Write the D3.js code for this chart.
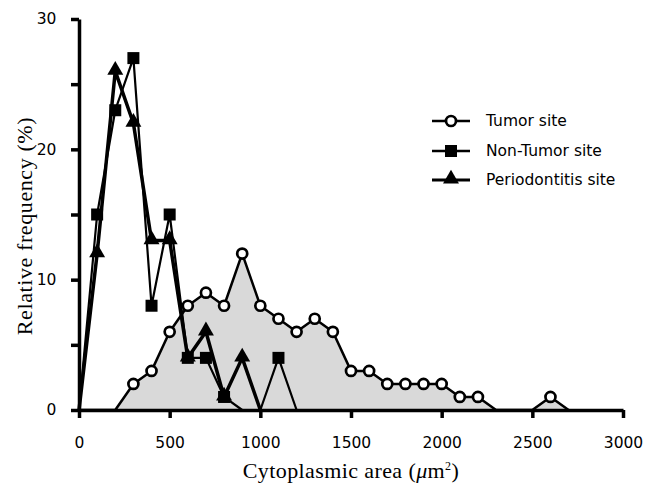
<!DOCTYPE html>
<html>
<head>
<meta charset="utf-8">
<script src="https://cdn.jsdelivr.net/npm/d3@7"></script>
<style>
  body { margin: 0; background: #fff; }
  svg { display: block; }
</style>
</head>
<body>
<div id="chart"></div>
<script>
const areaBins = [0, 100, 200, 300, 400, 500, 600, 700, 800, 900, 1000, 1100, 1200, 1300, 1400, 1500,
  1600, 1700, 1800, 1900, 2000, 2100, 2200, 2300, 2400, 2500, 2600, 2700];
const tumorValues = [0, 0, 0, 2, 3, 6, 8, 9, 8, 12, 8, 7, 6, 7, 6, 3, 3, 2, 2, 2, 2, 1, 1, 0, 0, 0, 1, 0];
const nonTumorBins = [0, 100, 200, 300, 400, 500, 600, 700, 800, 900, 1000, 1100, 1200];
const nonTumorValues = [0, 15, 23, 27, 8, 15, 4, 4, 1, 0, 0, 4, 0];
const perioBins = [0, 100, 200, 300, 400, 500, 600, 700, 800, 900, 1000];
const perioValues = [0, 12, 26, 22, 13, 13, 4, 6, 1, 4, 0];
const xTicks = [0, 500, 1000, 1500, 2000, 2500, 3000];
const yTicks = [0, 10, 20, 30];
const yMinorTicks = [0, 5, 10, 15, 20, 25, 30];
const legendLabels = ['Tumor site', 'Non-Tumor site', 'Periodontitis site'];

const W = 658, H = 486;
const SANS = '"DejaVu Sans", sans-serif';
const SERIF = '"Liberation Serif", serif';
const x = d3.scaleLinear().domain([0, 3000]).range([79, 623]);
const y = d3.scaleLinear().domain([0, 30]).range([410, 19]);

const svg = d3.select('#chart').append('svg').attr('width', W).attr('height', H);

const zip = (xs, ys) => xs.map((v, i) => ({x: v, y: ys[i]}));
const tumor = zip(areaBins, tumorValues);
const nonTumor = zip(nonTumorBins, nonTumorValues);
const perio = zip(perioBins, perioValues);

// grey fill under tumor curve (stippled in the print)
svg.append('path')
  .datum(tumor)
  .attr('fill', '#d9d9d9')
  .attr('d', d3.area().x(d => x(d.x)).y0(y(0)).y1(d => y(d.y)));

const line = d3.line().x(d => x(d.x)).y(d => y(d.y));

// axes
const xAxis = svg.append('g').attr('transform', `translate(0,${y(0)})`)
  .call(d3.axisBottom(x).tickValues(xTicks).tickSize(8).tickSizeOuter(0).tickFormat(d3.format('d')));
const yAxis = svg.append('g').attr('transform', `translate(${x(0)},0)`)
  .call(d3.axisLeft(y).tickValues(yMinorTicks).tickSize(8).tickSizeOuter(0)
    .tickFormat(d => yTicks.includes(d) ? d : ''));
[xAxis, yAxis].forEach(g => {
  g.select('.domain').attr('stroke', '#000').attr('stroke-width', 3.5);
  g.selectAll('.tick line').attr('stroke', '#000').attr('stroke-width', 3.5);
  g.selectAll('.tick text').attr('fill', '#000')
    .style('font-family', SANS).style('font-size', '15.5px');
});
xAxis.selectAll('.tick text').attr('dy', '1.75em');
yAxis.selectAll('.tick text').attr('dx', '-0.75em');

// series lines
svg.append('path').datum(tumor).attr('fill', 'none').attr('stroke', '#000')
  .attr('stroke-width', 2.5).attr('stroke-linejoin', 'round').attr('d', line);
svg.append('path').datum(nonTumor).attr('fill', 'none').attr('stroke', '#000')
  .attr('stroke-width', 2.2).attr('stroke-linejoin', 'round').attr('d', line);
svg.append('path').datum(perio).attr('fill', 'none').attr('stroke', '#000')
  .attr('stroke-width', 3.5).attr('stroke-linejoin', 'round').attr('d', line);

const triangle = d3.symbol().type(d3.symbolTriangle).size(110);

function drawSquare(g, cx, cy) {
  g.append('rect').attr('x', cx - 6).attr('y', cy - 6).attr('width', 12).attr('height', 12).attr('fill', '#000');
}
function drawTriangle(g, cx, cy) {
  g.append('path').attr('d', triangle()).attr('transform', `translate(${cx},${cy - 1})`).attr('fill', '#000');
}
function drawCircle(g, cx, cy) {
  g.append('circle').attr('cx', cx).attr('cy', cy).attr('r', 5)
    .attr('fill', '#fff').attr('stroke', '#000').attr('stroke-width', 2.7);
}

const marks = svg.append('g');
nonTumor.filter(d => d.y > 0).forEach(d => drawSquare(marks, x(d.x), y(d.y)));
perio.filter(d => d.y > 0).forEach(d => drawTriangle(marks, x(d.x), y(d.y)));
tumor.filter(d => d.y > 0).forEach(d => drawCircle(marks, x(d.x), y(d.y)));

// legend
const legendY = [121, 151, 180];
const drawers = [drawCircle, drawSquare, drawTriangle];
const legend = svg.append('g');
legendLabels.forEach((label, i) => {
  legend.append('line').attr('x1', 432).attr('x2', 470).attr('y1', legendY[i]).attr('y2', legendY[i])
    .attr('stroke', '#000').attr('stroke-width', i === 2 ? 3 : 2.5);
  drawers[i](legend, 451, legendY[i]);
  legend.append('text').attr('x', 486).attr('y', legendY[i]).attr('dy', '0.35em')
    .style('font-family', SANS).style('font-size', '15.5px').text(label);
});

// axis titles
svg.append('text').attr('x', 351).attr('y', 478).attr('text-anchor', 'middle')
  .style('font-family', SERIF).style('font-size', '22px').style('letter-spacing', '0.4px')
  .html('Cytoplasmic area (<tspan font-style="italic">μ</tspan>m<tspan font-size="12px" dy="-8">2</tspan><tspan dy="8">)</tspan>');
svg.append('text').attr('transform', 'translate(32,226) rotate(-90)').attr('text-anchor', 'middle')
  .style('font-family', SERIF).style('font-size', '22px').style('letter-spacing', '0.6px')
  .text('Relative frequency (%)');
</script>
</body>
</html>
